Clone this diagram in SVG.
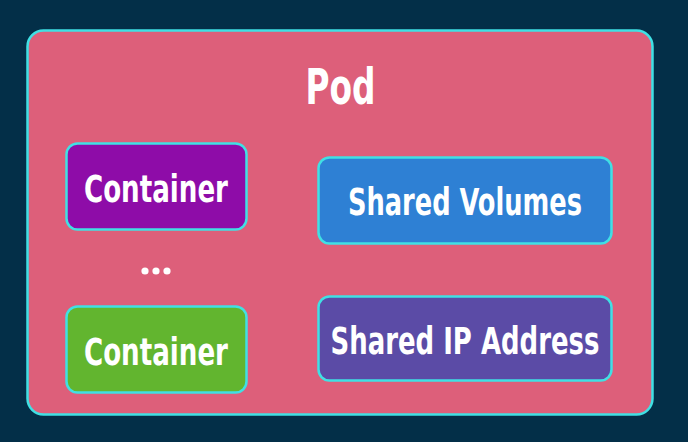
<svg xmlns="http://www.w3.org/2000/svg" width="688" height="442" viewBox="0 0 688 442">
<style>
.box{stroke:#40e0e4;stroke-width:2.5}
.t{font-family:"Liberation Sans Narrow","DejaVu Sans Condensed","Liberation Sans",sans-serif;font-weight:bold;fill:#ffffff;text-anchor:middle}
</style>
<rect x="0" y="0" width="688" height="442" fill="#032f48"/>
<g id="pod">
<rect class="box" x="27.5" y="30.5" width="625" height="384" rx="16" fill="#dd5f7a"/>
<text class="t" x="340.5" y="104" font-size="50" textLength="70" lengthAdjust="spacingAndGlyphs">Pod</text>
</g>
<g id="container1">
<rect class="box" x="66.5" y="143.5" width="180" height="86" rx="11" fill="#8e0ca8"/>
<text class="t" x="156" y="202" font-size="37" textLength="144" lengthAdjust="spacingAndGlyphs">Container</text>
</g>
<g id="dots" fill="#ffffff">
<circle cx="145" cy="271" r="3.6"/>
<circle cx="156" cy="271" r="3.6"/>
<circle cx="167" cy="271" r="3.6"/>
</g>
<g id="container2">
<rect class="box" x="66.5" y="306.5" width="180" height="86" rx="11" fill="#62b52f"/>
<text class="t" x="156" y="365" font-size="37" textLength="144" lengthAdjust="spacingAndGlyphs">Container</text>
</g>
<g id="shared-volumes">
<rect class="box" x="318.5" y="157.5" width="293" height="86" rx="11" fill="#2e80d4"/>
<text class="t" x="465" y="215" font-size="37" textLength="234" lengthAdjust="spacingAndGlyphs">Shared Volumes</text>
</g>
<g id="shared-ip">
<rect class="box" x="318.5" y="296.5" width="293" height="84" rx="11" fill="#5b4ba6"/>
<text class="t" x="465" y="354" font-size="37" textLength="269" lengthAdjust="spacingAndGlyphs">Shared IP Address</text>
</g>
<g id="connectors"/>
</svg>
